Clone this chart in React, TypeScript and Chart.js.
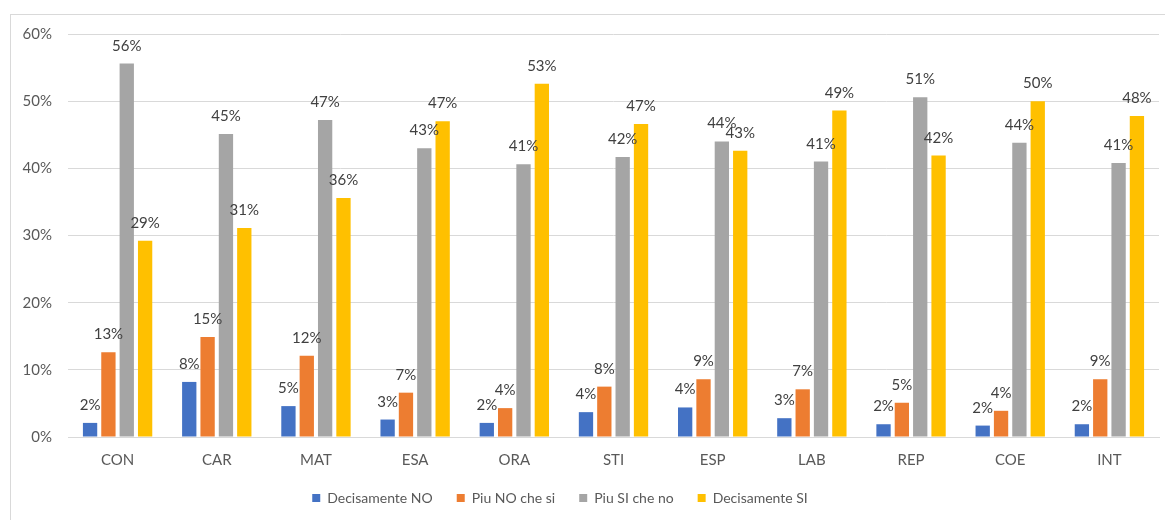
import React, { useEffect, useRef } from "react";
import { Chart, registerables } from "chart.js";

Chart.register(...registerables);

// Survey categories along the x axis
const categories = ["CON", "CAR", "MAT", "ESA", "ORA", "STI", "ESP", "LAB", "REP", "COE", "INT"];

// Answer shares per category, in percent
const decisamenteNo = [2.1, 8.2, 4.6, 2.6, 2.1, 3.7, 4.4, 2.8, 1.9, 1.7, 1.9];
const piuNoCheSi = [12.6, 14.9, 12.1, 6.6, 4.3, 7.5, 8.6, 7.1, 5.1, 3.9, 8.6];
const piuSiCheNo = [55.6, 45.1, 47.2, 43.0, 40.6, 41.7, 44.0, 41.0, 50.6, 43.8, 40.8];
const decisamenteSi = [29.2, 31.1, 35.6, 47.0, 52.6, 46.6, 42.6, 48.6, 41.9, 50.0, 47.8];

const seriesNames = ["Decisamente NO", "Piu NO che si", "Piu SI che no", "Decisamente SI"];
const seriesColors = ["#4472C4", "#ED7D31", "#A5A5A5", "#FFC000"];

// y axis range and step, in percent
const yMin = 0;
const yMax = 60;
const yStep = 10;

const FONT = "Lato, 'Open Sans', sans-serif";

// Writes each bar's rounded percentage just above it
const valueLabels = {
  id: "valueLabels",
  afterDatasetsDraw(chart: any) {
    const ctx = chart.ctx;
    ctx.save();
    ctx.font = `15px ${FONT}`;
    ctx.fillStyle = "#404040";
    ctx.textAlign = "center";
    ctx.textBaseline = "alphabetic";
    chart.data.datasets.forEach((ds: any, di: number) => {
      const meta = chart.getDatasetMeta(di);
      meta.data.forEach((bar: any, i: number) => {
        const v = ds.data[i] as number;
        ctx.fillText(`${Math.round(v)}%`, bar.x, bar.y - 13);
      });
    });
    ctx.restore();
  },
};

// Moves the legend row a little to the left of the canvas centre
const legendShift = {
  id: "legendShift",
  afterLayout(chart: any) {
    const lg = chart.legend;
    if (lg) {
      lg.left -= 25;
      lg.right -= 25;
    }
  },
};

export default function App() {
  const canvasRef = useRef<HTMLCanvasElement | null>(null);

  useEffect(() => {
    if (!canvasRef.current) return;
    const values = [decisamenteNo, piuNoCheSi, piuSiCheNo, decisamenteSi];
    const chart = new Chart(canvasRef.current, {
      type: "bar",
      data: {
        labels: categories,
        datasets: values.map((data, i) => ({
          label: seriesNames[i],
          data,
          backgroundColor: seriesColors[i],
          borderWidth: 0,
          categoryPercentage: 0.74,
          barPercentage: 0.78,
        })),
      },
      options: {
        responsive: false,
        animation: false,
        devicePixelRatio: 1,
        layout: { padding: { left: 11, right: 6, top: 34, bottom: 5 } },
        plugins: {
          tooltip: { enabled: false },
          legend: {
            position: "bottom",
            labels: {
              boxWidth: 8,
              boxHeight: 8,
              padding: 24,
              color: "#595959",
              font: { family: FONT, size: 14 },
            },
          },
        },
        scales: {
          x: {
            grid: { display: false, drawTicks: false },
            border: { display: true, color: "#d9d9d9", width: 1 },
            ticks: {
              color: "#595959",
              padding: 14,
              font: { family: FONT, size: 15 },
            },
            afterFit: (scale: any) => {
              scale.height = 30;
            },
          },
          y: {
            min: yMin,
            max: yMax,
            grid: { color: "#d9d9d9", lineWidth: 1, drawTicks: false },
            border: { display: false },
            ticks: {
              stepSize: yStep,
              color: "#595959",
              padding: 16,
              font: { family: FONT, size: 15 },
              callback: (v: any) => `${v}%`,
            },
            afterFit: (scale: any) => {
              scale.width = 57;
            },
          },
        },
      },
      plugins: [valueLabels, legendShift],
    });
    return () => chart.destroy();
  }, []);

  return (
    <div
      style={{
        position: "fixed",
        left: 0,
        top: 0,
        width: 1165,
        height: 520,
        overflow: "hidden",
        background: "#ffffff",
      }}
    >
      <div
        style={{
          position: "absolute",
          left: 10,
          top: 14,
          width: 1200,
          height: 600,
          border: "1px solid #d9d9d9",
        }}
      />
      <canvas
        ref={canvasRef}
        width={1165}
        height={520}
        style={{ position: "absolute", left: 0, top: 0, width: 1165, height: 520 }}
      />
    </div>
  );
}
